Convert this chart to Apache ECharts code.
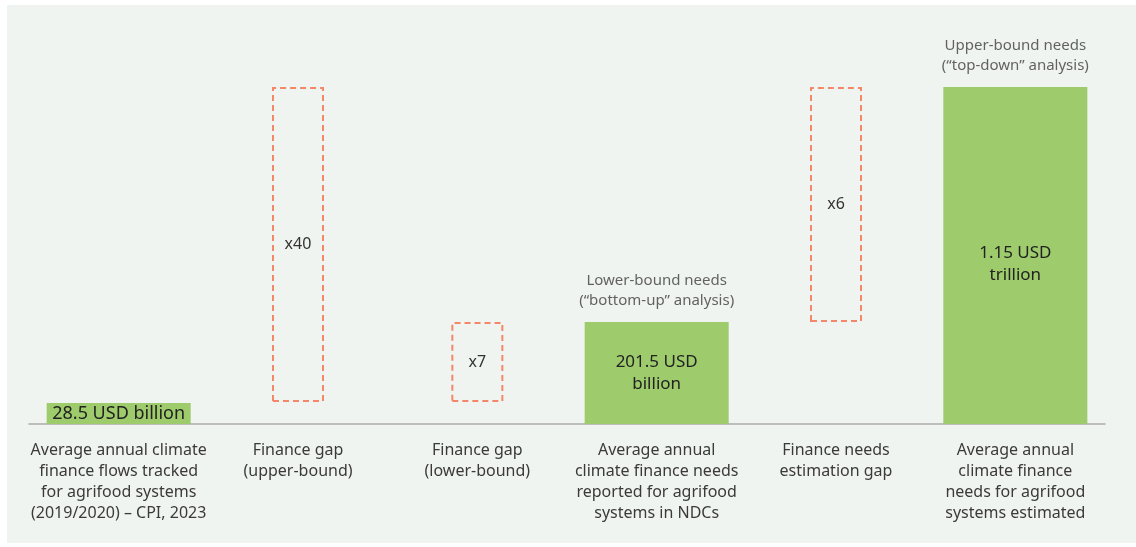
<!DOCTYPE html>
<html>
<head>
<meta charset="utf-8">
<script src="https://cdn.jsdelivr.net/npm/echarts@6/dist/echarts.min.js"></script>
<style>
  html, body { margin: 0; padding: 0; background: #fff; }
  #chart { position: absolute; left: 7px; top: 5px; width: 1129px; height: 538px; }
</style>
</head>
<body>
<div id="chart"></div>
<script>
// categories along the bottom
var categories = [
  'Average annual climate\nfinance flows tracked\nfor agrifood systems\n(2019/2020) – CPI, 2023',
  'Finance gap\n(upper-bound)',
  'Finance gap\n(lower-bound)',
  'Average annual\nclimate finance needs\nreported for agrifood\nsystems in NDCs',
  'Finance needs\nestimation gap',
  'Average annual\nclimate finance\nneeds for agrifood\nsystems estimated'
];
// schematic bar heights as drawn (tallest = 100), real amounts are in the labels
var barHeights = [6.2, null, null, 30.3, null, 100];
var barLabels = ['28.5 USD billion', '', '', '201.5 USD\nbillion', '', '1.15 USD\ntrillion'];
var needsNotes = ['', '', '', 'Lower-bound needs\n(“bottom-up” analysis)', '', 'Upper-bound needs\n(“top-down” analysis)'];
// dashed gap boxes: bottom and top
var gapLow = [null, 6.5, 6.5, null, 30.3, null];
var gapHigh = [null, 100, 30.3, null, 100, null];
var gapLabels = ['', 'x40', 'x7', '', 'x6', ''];

var green = '#9ecb6c';
var salmon = '#f4876a';
var font = 'Noto Sans';

var gapSize = gapHigh.map(function (h, i) {
  return h == null ? null : +(h - gapLow[i]).toFixed(1);
});

var barData = barHeights.map(function (v, i) {
  if (v == null) return null;
  var item = { value: v };
  if (i === 0) item.label = { fontSize: 18 };
  if (i === 5) item.label = { offset: [0, 9] };
  return item;
});

var chart = echarts.init(document.getElementById('chart'));
chart.setOption({
  backgroundColor: '#f0f4f0',
  animation: false,
  textStyle: { fontFamily: font },
  grid: { left: 22, right: 31, top: 82, bottom: 119 },
  xAxis: [
    {
      type: 'category',
      data: categories,
      axisLine: { lineStyle: { color: '#aaaaaa', width: 1.5 } },
      axisTick: { show: false },
      axisLabel: {
        interval: 0, margin: 16, color: '#3a3a3a',
        fontSize: 16, lineHeight: 21, fontFamily: font
      }
    },
    { type: 'category', data: categories, show: false }
  ],
  yAxis: { type: 'value', min: 0, max: 100, show: false },
  series: [
    {
      type: 'bar',
      xAxisIndex: 0,
      barWidth: 144,
      data: barData,
      itemStyle: { color: green },
      label: {
        show: true, position: 'inside', color: '#222', fontSize: 17, lineHeight: 22,
        fontFamily: font,
        formatter: function (p) { return barLabels[p.dataIndex]; }
      },
      z: 2
    },
    {
      type: 'scatter',
      xAxisIndex: 0,
      symbolSize: 0,
      data: barHeights.map(function (v, i) { return needsNotes[i] ? v : null; }),
      label: {
        show: true, position: 'top', distance: 11, color: '#3c3c3c', fontSize: 15,
        lineHeight: 20, fontFamily: font,
        formatter: function (p) { return needsNotes[p.dataIndex]; }
      }
    },
    {
      type: 'bar',
      xAxisIndex: 1,
      stack: 'gap',
      barWidth: 52,
      data: gapLow,
      itemStyle: { color: 'transparent' },
      silent: true
    },
    {
      type: 'bar',
      xAxisIndex: 1,
      stack: 'gap',
      barWidth: 52,
      data: gapSize,
      itemStyle: {
        color: 'transparent', borderColor: salmon, borderWidth: 2,
        borderType: [6, 4]
      },
      label: {
        show: true, position: 'inside', color: '#333', fontSize: 16, fontFamily: font,
        formatter: function (p) { return gapLabels[p.dataIndex]; }
      }
    }
  ]
});
</script>
</body>
</html>
